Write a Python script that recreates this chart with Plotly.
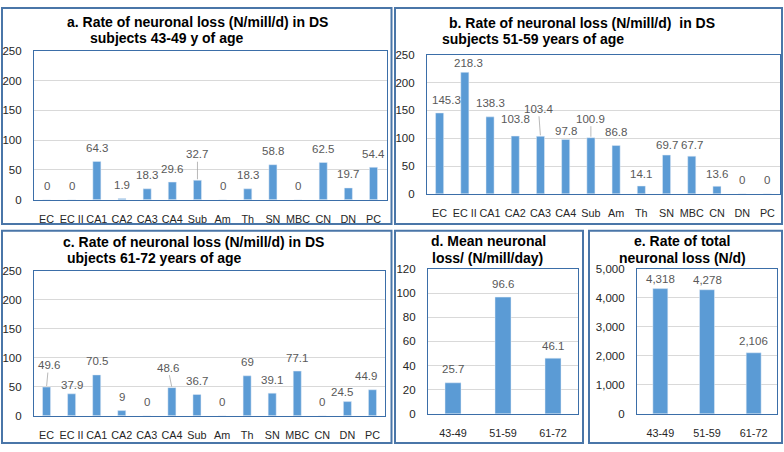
import plotly.graph_objects as go

W, H = 784, 452

# data
regions = ["EC", "EC II", "CA1", "CA2", "CA3", "CA4", "Sub", "Am", "Th", "SN", "MBC", "CN", "DN", "PC"]
loss_43_49 = [0, 0, 64.3, 1.9, 18.3, 29.6, 32.7, 0, 18.3, 58.8, 0, 62.5, 19.7, 54.4]
loss_51_59 = [145.3, 218.3, 138.3, 103.8, 103.4, 97.8, 100.9, 86.8, 14.1, 69.7, 67.7, 13.6, 0, 0]
loss_61_72 = [49.6, 37.9, 70.5, 9, 0, 48.6, 36.7, 0, 69, 39.1, 77.1, 0, 24.5, 44.9]
age_groups = ["43-49", "51-59", "61-72"]
mean_loss = [25.7, 96.6, 46.1]
total_loss = [4318, 4278, 2106]

BAR = "#5b9bd5"
BOX = "#3b6ea8"
FRAME = "#4a76a8"
GRID = "#d9d9d9"
LBL = "#595959"
FONT = "Liberation Sans"


def px_x(v):
    return v / W


def px_y(v):
    return 1 - v / H


fig = go.Figure()

# plot areas in pixels: (left, right, top, bottom)
panels = [
    ("x", "y", (34, 387, 46, 199), regions, loss_43_49, [0, 250], None),
    ("x2", "y2", (427, 780, 50, 193), regions, loss_51_59, [0, 250], None),
    ("x3", "y3", (34, 385, 272, 421), regions, loss_61_72, [0, 250], None),
    ("x4", "y4", (428, 578, 270, 419), age_groups, mean_loss, [0, 120], None),
    ("x5", "y5", (637, 777, 270, 419), age_groups, total_loss, [0, 5000], ","),
]

layout_axes = {}
for i, (xa, ya, (l, r, t, b), cats, vals, yr, fmt) in enumerate(panels):
    n = str(i + 1) if i else ""
    fig.add_trace(go.Bar(x=cats, y=vals, xaxis=xa, yaxis=ya, marker_color=BAR,
                         showlegend=False, hoverinfo="x+y"))
    layout_axes["xaxis" + n] = dict(
        domain=[px_x(l), px_x(r)], anchor=ya, type="category", tickangle=0,
        showline=True, mirror=True, linecolor=BOX, linewidth=1.2, ticks="",
        tickfont=dict(family=FONT, size=10.8, color="#262626"),
        ticklabelstandoff=9, fixedrange=True,
    )
    dtick = {250: 50, 120: 20, 5000: 1000}[yr[1]]
    layout_axes["yaxis" + n] = dict(
        domain=[px_y(b), px_y(t)], anchor=xa, range=yr, dtick=dtick,
        showline=True, mirror=True, linecolor=BOX, linewidth=1.2,
        gridcolor=GRID, gridwidth=1, zeroline=False, ticks="",
        tickformat=fmt if fmt else "",
        tickfont=dict(family=FONT, size=11.5, color="#262626"),
        ticklabelstandoff=9, fixedrange=True,
    )

fig.update_layout(**layout_axes)
fig.update_layout(bargap=0.68)

# label nudges (pixels above bar top) and leader lines
nudges = {
    0: {"Sub": ("lead", 0, -26)},
    1: {"EC": (13, 7), "EC II": (9, 4), "CA2": (17.5, 0), "CA3": ("lead", -2, -27.5),
        "CA4": (8.5, 0), "Sub": ("lead", 0, -19), "SN": (10.5, 0), "MBC": (11.5, 0),
        "Th": (12, 0), "CN": (12.5, 0)},
    2: {"EC": ("lead", 2, -22), "EC II": (9, 0), "CA4": ("lead", -4, -20),
        "DN": (10, -5), "PC": (14, -6)},
    3: {"61-72": (12.5, 0)},
    4: {"43-49": (10, 0), "51-59": (10, 0), "61-72": (12, 0)},
}

annots = []
for i, (xa, ya, box, cats, vals, yr, fmt) in enumerate(panels):
    for c, v in zip(cats, vals):
        txt = f"{v:,}" if fmt else f"{v:g}"
        nd = nudges[i].get(c, (13.5, 0))
        base = dict(x=c, y=v, xref=xa, yref=ya, text=txt,
                    font=dict(family=FONT, size=11.5, color=LBL))
        if nd[0] == "lead":
            annots.append(dict(base, showarrow=True, arrowhead=0, arrowwidth=0.8,
                               arrowcolor="#a6a6a6", ax=nd[1], ay=nd[2], standoff=1))
        else:
            annots.append(dict(base, showarrow=False, yanchor="middle",
                               yshift=nd[0], xshift=nd[1]))

# titles: (text, x px, y px, anchor)
titles = [
    ("a. Rate of neuronal loss (N/mill/d) in DS", 197.5, 16, "center"),
    ("subjects 43-49 y of age", 88, 32.5, "left"),
    ("b. Rate of neuronal loss (N/mill/d)  in DS", 581.5, 17.5, "center"),
    ("subjects 51-59 years of age", 440, 34, "left"),
    ("c. Rate of neuronal loss (N/mill/d) in DS", 193.5, 242, "center"),
    ("ubjects 61-72 years of age", 65, 258.5, "left"),
    ("d. Mean neuronal", 489, 241.5, "center"),
    ("loss/ (N/mill/day)", 487, 259, "center"),
    ("e. Rate of total", 682, 241.5, "center"),
    ("neuronal loss (N/d)", 682, 258.5, "center"),
]
for txt, x, y, anc in titles:
    annots.append(dict(text=txt.replace("  ", "&nbsp; "), x=px_x(x), y=px_y(y),
                       xref="paper", yref="paper", xanchor=anc, yanchor="middle",
                       showarrow=False,
                       font=dict(family=FONT, size=14, color="#000000", weight="bold")))

fig.update_layout(annotations=annots)

# outer panel frames
frames = [(2, 391.5, 2, 224), (395, 782, 2, 224), (2, 391.5, 231, 449),
          (395, 583, 231, 449), (589, 782, 231, 449)]
for l, r, t, b in frames:
    fig.add_shape(type="rect", xref="paper", yref="paper",
                  x0=px_x(l), x1=px_x(r), y0=px_y(b), y1=px_y(t),
                  line=dict(color=FRAME, width=2), layer="below")

fig.update_layout(
    width=W, height=H,
    margin=dict(l=0, r=0, t=0, b=0),
    paper_bgcolor="white", plot_bgcolor="white",
    font=dict(family=FONT),
)

fig.write_html("out.html", config={"displayModeBar": False},
               post_script="document.body.style.margin='0';document.body.style.overflow='hidden';")
